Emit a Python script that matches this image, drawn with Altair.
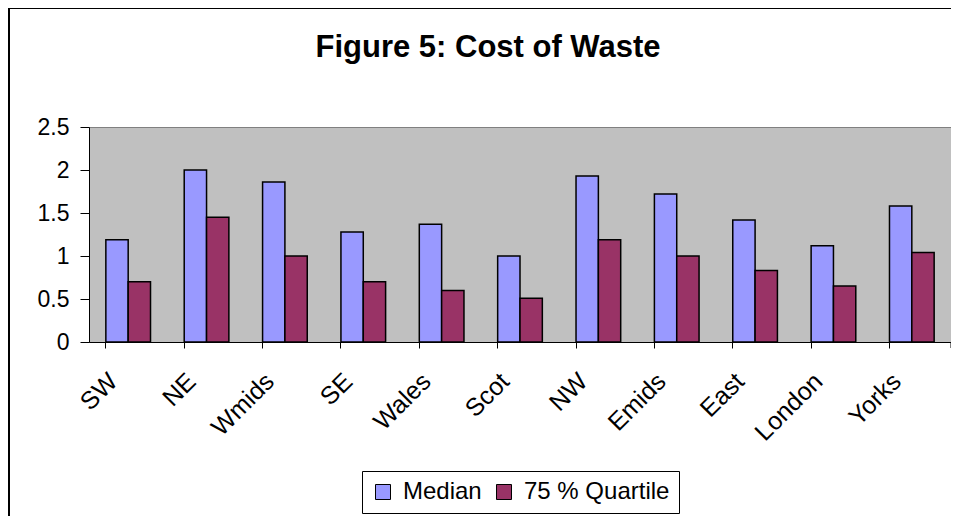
import altair as alt
import pandas as pd

regions = ["SW", "NE", "Wmids", "SE", "Wales", "Scot", "NW", "Emids", "East", "London", "Yorks"]
median = [1.19, 2.0, 1.86, 1.28, 1.37, 1.0, 1.93, 1.72, 1.42, 1.12, 1.58]
quartile75 = [0.70, 1.45, 1.0, 0.70, 0.60, 0.51, 1.19, 1.0, 0.83, 0.65, 1.04]
series = ["Median", "75 % Quartile"]
colors = ["#9999FF", "#993366"]

rows = []
for i, r in enumerate(regions):
    rows.append({"region": r, "series": series[0], "value": median[i]})
    rows.append({"region": r, "series": series[1], "value": quartile75[i]})
df = pd.DataFrame(rows)

FONT = "Liberation Sans"
W, H = 862, 215

bars = alt.Chart(df).mark_bar(stroke="black", strokeWidth=1.5).encode(
    x=alt.X("region:N", sort=regions, title=None,
            scale=alt.Scale(paddingInner=0.43, paddingOuter=0.215),
            axis=alt.Axis(labelAngle=-45, labelAlign="right", labelBaseline="middle",
                          labelFontSize=25, labelFont=FONT, labelColor="black",
                          labelPadding=29, bandPosition=0, labelOffset=-15,
                          tickSize=6, tickColor="black", domainColor="black",
                          domainWidth=1, tickWidth=1, labelOverlap=False)),
    xOffset=alt.XOffset("series:N", sort=series),
    y=alt.Y("value:Q", title=None,
            scale=alt.Scale(domain=[0, 2.5]),
            axis=alt.Axis(values=[0, 0.5, 1, 1.5, 2, 2.5], format="~g",
                          labelFontSize=23, labelFont=FONT, labelColor="black",
                          labelPadding=11, tickSize=9, tickColor="black",
                          domainColor="black", grid=False)),
    color=alt.Color("series:N", sort=series,
                    scale=alt.Scale(domain=series, range=colors),
                    legend=alt.Legend(title=None, orient="none", legendX=273, legendY=344,
                                      direction="horizontal", columns=2,
                                      strokeColor="black", fillColor="white",
                                      padding=9, symbolType="square", symbolSize=225,
                                      symbolStrokeColor="black", symbolStrokeWidth=1,
                                      symbolOpacity=1, labelFontSize=24, labelFont=FONT,
                                      labelColor="black", columnPadding=10, labelOffset=8)),
)

frame_left = alt.Chart(alt.Data(values=[{}])).mark_rule(color="black", strokeWidth=2).encode(
    x=alt.value(-80), y=alt.value(-119), y2=alt.value(2000)
)
frame_top = alt.Chart(alt.Data(values=[{}])).mark_rule(color="black", strokeWidth=2).encode(
    x=alt.value(-81), x2=alt.value(2000), y=alt.value(-119)
)

lasttick = alt.Chart(alt.Data(values=[{}])).mark_rule(color="black", strokeWidth=1).encode(
    x=alt.value(W), y=alt.value(H), y2=alt.value(H + 6)
)

chart = alt.layer(frame_left, frame_top, bars, lasttick).properties(
    width=W, height=H,
    autosize=alt.AutoSizeParams(type="none"),
    padding={"left": 81, "top": 119, "right": 0, "bottom": 174},
    background="white",
    title=alt.TitleParams("Figure 5: Cost of Waste", font=FONT, fontSize=31,
                          fontWeight="bold", color="black", anchor="middle",
                          frame="group", dx=-32, baseline="alphabetic", offset=-81),
).configure_view(fill="#C0C0C0", stroke="#808080", strokeWidth=1)

chart.save("out.html", embed_options={"renderer": "svg", "actions": False})
